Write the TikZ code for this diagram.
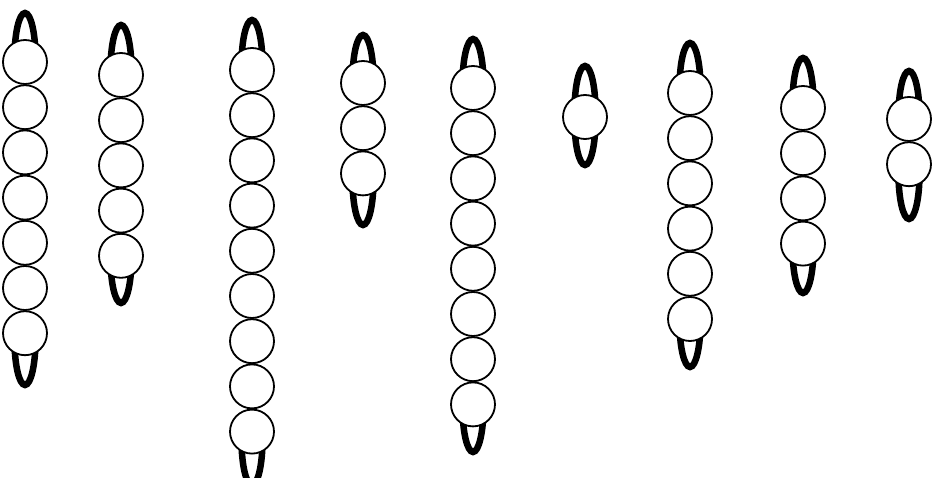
\documentclass[tikz,border=0pt]{standalone}
\usetikzlibrary{positioning}

\tikzset{
  bead/.style={circle, draw, line width=1.8pt, fill=white, minimum size=44pt, inner sep=0pt},
  strand/.style={line width=6.5pt}
}

\begin{document}
\begin{tikzpicture}[x=1pt, y=-1pt]
        \useasboundingbox (0,0) rectangle (940,478);

        % Strings of beads: x / first bead / count / loop top / loop bottom
        \foreach \cx/\cy/\n/\lt/\lb [count=\c] in {25/62/7/10/388, 121/75/5/22/306, 252/70/9/17/488,
                363/83/3/32/228, 473/88/8/36/455, 585/117/1/63/168,
                690/93/6/40/370, 803/108/4/55/296, 909/119/2/68/222} {
            % Loop, hidden behind the beads
            \draw[strand] ({\cx-10.5}, {\lt+48}) arc [start angle=180, end angle=0, x radius=10.5pt, y radius=45pt]
                -- ({\cx+10.5}, {\lb-48}) arc [start angle=0, end angle=-180, x radius=10.5pt, y radius=45pt] -- cycle;
            \fill[white] ({\cx-15}, \cy) rectangle ({\cx+15}, {\cy+(\n-1)*45.2});
            % Beads
            \foreach \k in {1,...,\n}
                \node[bead] (b\c-\k) at (\cx, {\cy+(\k-1)*45.2}) {};
        }
    \end{tikzpicture}
\end{document}
